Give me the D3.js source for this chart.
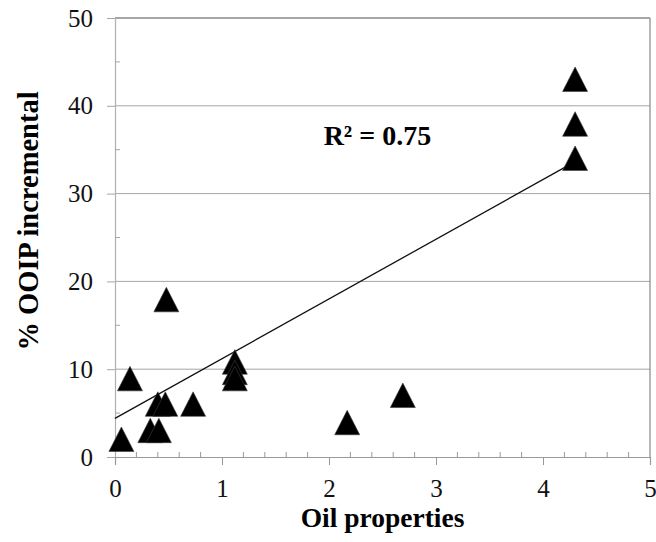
<!DOCTYPE html>
<html>
<head>
<meta charset="utf-8">
<script src="https://cdn.jsdelivr.net/npm/d3@7"></script>
<style>
  html, body { margin: 0; padding: 0; background: #fff; }
  svg { display: block; }
  svg text { font-family: "Liberation Serif", "Times New Roman", "DejaVu Serif", serif; }
</style>
</head>
<body>
<svg id="chart" width="656" height="542"></svg>
<script>
// Measured samples: oil property index vs. incremental recovery (% OOIP)
const oilProperties = [0.06, 0.14, 0.33, 0.41, 0.40, 0.47, 0.73, 1.12, 1.12, 1.12, 0.48, 2.17, 2.69, 4.30, 4.30, 4.30];
const ooipIncremental = [2.0, 8.9, 3.0, 3.0, 6.0, 6.0, 6.0, 10.8, 9.6, 8.9, 17.9, 3.9, 7.0, 43.0, 37.9, 34.0];

// Linear trendline (intercept, slope) and its x extent
const trendIntercept = [4.4];
const trendSlope = [6.8];
const trendRange = [0, 4.3];
const rSquaredLabel = "R² = 0.75";

const xTicks = [0, 1, 2, 3, 4, 5];
const yTicks = [0, 10, 20, 30, 40, 50];
const xTitle = "Oil properties";
const yTitle = "% OOIP incremental";

(function () {
  const svg = d3.select("#chart");
  const plotLeft = 115, plotRight = 650, plotTop = 18, plotBottom = 457;

  const x = d3.scaleLinear().domain([0, 5]).range([plotLeft, plotRight]);
  const y = d3.scaleLinear().domain([0, 50]).range([plotBottom, plotTop]);

  const serif = '"Liberation Serif", "Times New Roman", "DejaVu Serif", serif';

  // Horizontal gridlines
  svg.append("g")
    .selectAll("line")
    .data(yTicks.filter(d => d > 0))
    .join("line")
    .attr("x1", plotLeft).attr("x2", plotRight)
    .attr("y1", d => y(d)).attr("y2", d => y(d))
    .attr("stroke", d => d === 50 ? "#888" : "#a6a6a6")
    .attr("stroke-width", d => d === 50 ? 1.5 : 1);

  // Right frame edge
  svg.append("line")
    .attr("x1", plotRight).attr("x2", plotRight)
    .attr("y1", plotTop).attr("y2", plotBottom)
    .attr("stroke", "#888").attr("stroke-width", 1.2);

  // Y axis: major ticks outward, minor ticks inward
  const yAxis = svg.append("g").attr("transform", `translate(${plotLeft},0)`);
  yAxis.call(d3.axisLeft(y).tickValues(yTicks).tickSize(8).tickPadding(14).tickFormat(d3.format("d")))
    .attr("font-family", null).attr("font-size", null)
    .call(g => g.select(".domain").attr("stroke", "#b0b0b0").attr("stroke-width", 1.2))
    .call(g => g.selectAll(".tick line").attr("stroke", "#a6a6a6"))
    .call(g => g.selectAll(".tick text")
      .style("font-family", serif).style("font-size", "25px").attr("fill", "#111"));
  yAxis.append("g")
    .selectAll("line")
    .data(d3.range(5, 50, 10))
    .join("line")
    .attr("x1", 0).attr("x2", 5)
    .attr("y1", d => y(d)).attr("y2", d => y(d))
    .attr("stroke", "#a6a6a6");

  // X axis: major ticks outward, minor ticks inward every 0.2
  const xAxis = svg.append("g").attr("transform", `translate(0,${plotBottom})`);
  xAxis.call(d3.axisBottom(x).tickValues(xTicks).tickSize(8).tickPadding(14).tickFormat(d3.format("d")))
    .attr("font-family", null).attr("font-size", null)
    .call(g => g.select(".domain").attr("stroke", "#999").attr("stroke-width", 1.2))
    .call(g => g.selectAll(".tick line").attr("stroke", "#999"))
    .call(g => g.selectAll(".tick text")
      .style("font-family", serif).style("font-size", "25px").attr("fill", "#111"));
  xAxis.append("g")
    .selectAll("line")
    .data(d3.range(1, 25).filter(i => i % 5 !== 0).map(i => i * 0.2))
    .join("line")
    .attr("x1", d => x(d)).attr("x2", d => x(d))
    .attr("y1", 0).attr("y2", -5)
    .attr("stroke", "#999");

  // Trendline
  svg.append("line")
    .attr("x1", x(trendRange[0]))
    .attr("y1", y(trendIntercept[0] + trendSlope[0] * trendRange[0]))
    .attr("x2", x(trendRange[1]))
    .attr("y2", y(trendIntercept[0] + trendSlope[0] * trendRange[1]))
    .attr("stroke", "#111").attr("stroke-width", 1.3);

  // Triangle markers
  const half = 12.5;
  svg.append("g")
    .selectAll("path")
    .data(oilProperties.map((v, i) => [v, ooipIncremental[i]]))
    .join("path")
    .attr("d", d => {
      const cx = x(d[0]), cy = y(d[1]);
      return `M${cx},${cy - half}L${cx + half},${cy + half - 0.5}L${cx - half},${cy + half - 0.5}Z`;
    })
    .attr("fill", "#000")
    .attr("stroke", "#3a3a3a")
    .attr("stroke-width", 0.6);

  // R² annotation
  svg.append("text")
    .attr("x", x(1.95)).attr("y", y(35.5))
    .style("font-family", serif).style("font-weight", "bold").style("font-size", "28px")
    .attr("fill", "#000")
    .text(rSquaredLabel);

  // Axis titles
  svg.append("text")
    .attr("x", (plotLeft + plotRight) / 2).attr("y", 527)
    .attr("text-anchor", "middle")
    .style("font-family", serif).style("font-weight", "bold").style("font-size", "27.5px")
    .attr("fill", "#000")
    .text(xTitle);

  svg.append("text")
    .attr("transform", `translate(38,221) rotate(-90)`)
    .attr("text-anchor", "middle")
    .style("font-family", serif).style("font-weight", "bold").style("font-size", "28.5px")
    .attr("fill", "#000")
    .text(yTitle);
})();
</script>
</body>
</html>
